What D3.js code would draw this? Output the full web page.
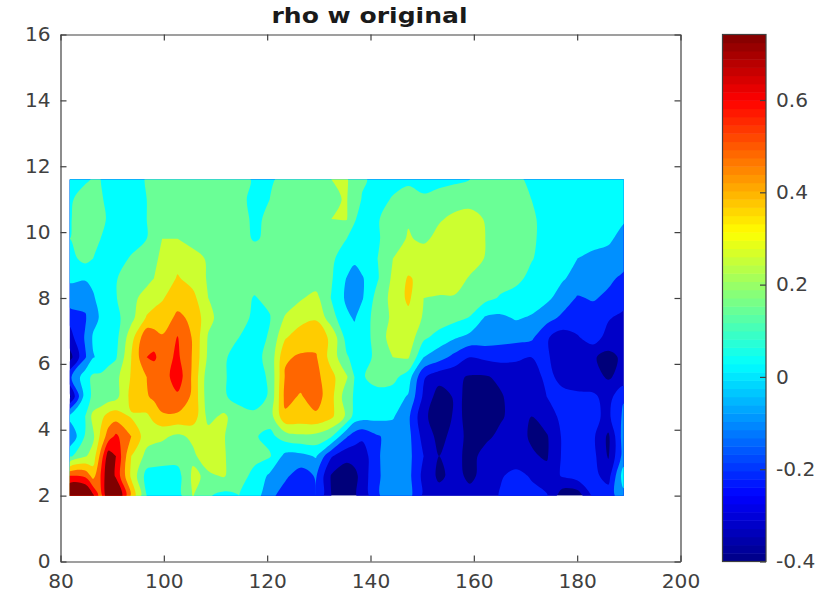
<!DOCTYPE html>
<html>
<head>
<meta charset="utf-8">
<script src="https://cdn.jsdelivr.net/npm/d3@7"></script>
<style>
body { margin: 0; background: #fff; }
text { font-family: "DejaVu Sans", sans-serif; }
</style>
</head>
<body>
<svg id="chart" width="826" height="596"></svg>
<script>
// data: rho on a grid, in hundredths, top row first
const titleText = "rho w original";
const xTicks = [80, 100, 120, 140, 160, 180, 200];
const yTicks = [0, 2, 4, 6, 8, 10, 12, 14, 16];
const barTicks = [-0.4, -0.2, 0, 0.2, 0.4, 0.6];
const gridX = [81.8, 84.78, 86.3, 87.76, 89.3, 90.73, 93.71, 96.69, 98.1, 99.67, 102.65, 105.62, 108.6, 111.58, 114.56, 117.54, 120.51, 123.49, 126.47, 129.45, 132.43, 135.4, 136.9, 138.38, 141.36, 144.34, 147.32, 150.29, 153.27, 156.25, 159.23, 162.21, 165.18, 168.16, 171.14, 174.12, 177.1, 180.07, 183.05, 186.03, 189];
const gridY = [11.6, 11, 10.4, 9.8, 9.2, 8.6, 8, 7.4, 6.8, 6.2, 5.6, 5, 4.4, 3.8, 3.2, 2.6, 2];
const rhoRows = [
  [5,8,11,10,8,4,4,11,13,15,15,16,16,15,13,9,9,12,18,14,20,21,15,11,8,6,8,5,6,8,10,14,14,12,8,5,5,5,5,4,3],
  [8,16,16,11,8,6,5,10,13,15,16,17,16,15,12,8,10,14,16,17,19,20.5,14,9.5,6,11,14,12,15,16,17,16,15,13,10,7,6,5,5,4,2],
  [9,17,17,12,9,7,5,10,14,17,19,17,16,15,12,9,11,14,16,17,20,20.5,10.5,8,9.5,13,19,17,19,22,23,19.5,16,14,11,8,7,6,5,4,1],
  [10,16,15,10,8,6,6,10,15,20,20,17,16,15,12,9.5,11,13,15,15,13,10,8,6,9,15,21,18,23,25,25,20,17,15,11,8,6,5,3,1.5,-3],
  [7,13,10,8,7,6,11,16,19,21,26,23,19,16,15,13,13,13,14,14,11,7,3,5,10,20,24,26,26,26,25,19.5,17,14,10.5,7,3,0,-2,-3,-6],
  [1,1,2,3,6,9.5,14,17,20,22,31,26,19,16,14,13,13,15,16,14,11,-0.5,-6,-1,9,22,31,27,26,25,19,16,14,12,8,5,1,-3,-5,-8,-12],
  [-3,-7,-1,3,5,9.5,17,24,27,29,36,33,20,15,13,9.5,12,14,19,23,9.5,-2,-6,-1,14,23,32,20,19,19,16,13,9,7,5,2,-4,-11,-9,-12,-15],
  [-17,-11,-3,1,4,7,17,31,33,35,42,38,23,15,12,9,9.5,21,26,29,14,2,-1,5,14,22,27,19,16,13,9.5,-1,-2,1,-1,-6,-12,-14,-15,-19,-23],
  [-24,-9,1,3,5,7,26,48,45,41,50.5,39,19,15,10,6,11,29,36,36,28,6,4,4,15,24,26,12,6,1,-3,-4,-6,-7,-8,-19,-25,-21,-15,-24,-27],
  [-34,-11,-0.5,2,6,9,30,50,52,45,52,39,18,11,7,8,12,39,41,41,26,11,7,5,13,20,21,0,-6,-13,-20,-18,-17,-18,-20,-19,-24,-26,-29,-33,-28],
  [-12,6,12,12,15,17,31,40,42,44,56,38,14,11,6,7,11,41,44,43,33,21,10,9,14,13,5,-19,-26,-28,-31,-31,-28,-27,-24,-18,-22,-25,-27,-31,-27],
  [-32,5,12,13,15,17,33,39,42,47,48,38,14,11,7,6,11,43,39,45,33,14,9,7,6,5,-1,-22,-35,-29,-31,-33,-31,-26,-23,-20,-18,-18,-18,-24,-11],
  [3,10,23,27,34,36,29,28,33,38,38,36,17,22,14,12,15,38,37,38,32,18,6,4,3,1,-8,-28,-35,-29,-31,-33,-31,-27,-30,-24,-18,-19,-18,-22,-8],
  [-9,11,18,32,45,52,40,24,23,22,18,22,24,20.5,15,11,7,15,18,17,11,-9,-15,-18,-11,-6,-7,-24,-33,-27,-32,-32,-28,-27,-31,-31,-19,-15,-18,-32,-5],
  [8,19,24,43,66,60,30,17,15,14,14,18,26,21,14,12,11,-3,-3,1,-19,-27,-26,-26,-11,-5,-7,-20,-30,-27,-33,-27,-26,-26,-29,-31,-19,-15,-17,-31,-6],
  [50,48,36,50,70,58,28,6,6,6,6,22,18,21,13,8,-2,-8,-15,-9,-31,-36,-33,-26,-11,-6,-7,-23,-32,-27,-32,-27,-21,-17,-21,-27,-19,-15,-17,-24,5],
  [78,76,62,45,72,76,38,10,7,5,6,20.5,11,7,10,5,-7,-15,-17,-10,-30,-33,-31,-27,-11,-5,-6,-22,-26,-27,-27,-26,-19,-16,-17,-19,-36,-36,-18,-15,-3]
];
// contour levels (same hundredths) and the flat colour of each band
const bandLevels = [-30, -20, -10, 0, 10, 20, 30, 40, 50, 60];
const bandColors = ["#00007a", "#0000c8", "#0020ff", "#0090ff", "#00ffff", "#6aff96", "#ccff30", "#ffcc00", "#ff6600", "#ff0000", "#800000"];
// jet colormap of the colourbar
const jetPositions = [0, 0.125, 0.375, 0.625, 0.875, 1];
const jetColors = ["#000084", "#0000ff", "#00ffff", "#ffff00", "#ff0000", "#800000"];
const barMin = -0.4, barMax = 0.742, barSteps = 64;
// layout
const axLeft = 60.5, axRight = 680.5, axTop = 34.5, axBottom = 561.5;
const barLeft = 722.5, barRight = 766;
const inkColor = "#404040";
const fontSize = 19;

const svg = d3.select("#chart");
const x = d3.scaleLinear().domain([80, 200]).range([axLeft, axRight]);
const y = d3.scaleLinear().domain([0, 16]).range([axBottom, axTop]);

// contours, d3 puts grid value i at i + 0.5
const nx = gridX.length, ny = gridY.length;
const colX = d3.scaleLinear().domain(d3.range(nx)).range(gridX);
const rowY = d3.scaleLinear().domain(d3.range(ny)).range(gridY);
const contourData = d3.contours().size([nx, ny]).thresholds(bandLevels)(rhoRows.flat());
const ringLine = d3.line()
    .x(d => x(colX(d[0] - 0.5)))
    .y(d => y(rowY(d[1] - 0.5)))
    .curve(d3.curveCatmullRomClosed.alpha(0.5));
const contourPath = (multi) => multi.coordinates
    .map(poly => poly.map(ring => ringLine(ring.slice(0, -1))).join(""))
    .join("");

const plotRect = (sel) => sel
    .attr("x", x(gridX[0]))
    .attr("y", y(gridY[0]))
    .attr("width", x(gridX[nx - 1]) - x(gridX[0]))
    .attr("height", y(gridY[ny - 1]) - y(gridY[0]));
svg.append("clipPath").attr("id", "gridClip").append("rect").call(plotRect);
const plot = svg.append("g").attr("clip-path", "url(#gridClip)");
plot.append("rect").call(plotRect).attr("fill", bandColors[0]);
plot.selectAll("path")
  .data(contourData)
  .join("path")
    .attr("d", contourPath)
    .attr("fill", (d, i) => bandColors[i + 1]);

// axes, ticks point inward on all four sides
const styleAxis = (g) => {
    g.selectAll("path, line").attr("stroke", inkColor).attr("stroke-width", 1.2);
    g.selectAll("text")
        .attr("fill", inkColor)
        .attr("font-size", fontSize)
        .attr("font-family", "DejaVu Sans")
        .attr("lengthAdjust", "spacingAndGlyphs")
        .attr("textLength", function () { return this.getComputedTextLength() * 1.06; });
};
svg.append("g").attr("transform", `translate(0,${axBottom})`)
    .call(d3.axisBottom(x).tickValues(xTicks).tickSize(-6).tickPadding(13).tickSizeOuter(0))
    .call(styleAxis);
svg.append("g").attr("transform", `translate(0,${axTop})`)
    .call(d3.axisTop(x).tickValues(xTicks).tickSize(-6).tickFormat("").tickSizeOuter(0))
    .call(styleAxis);
svg.append("g").attr("transform", `translate(${axLeft},0)`)
    .call(d3.axisLeft(y).tickValues(yTicks).tickSize(-6).tickPadding(10).tickSizeOuter(0))
    .call(styleAxis);
svg.append("g").attr("transform", `translate(${axRight},0)`)
    .call(d3.axisRight(y).tickValues(yTicks).tickSize(-6).tickFormat("").tickSizeOuter(0))
    .call(styleAxis);

svg.append("text")
    .attr("x", (axLeft + axRight) / 2 - 1)
    .attr("y", 23)
    .attr("text-anchor", "middle")
    .attr("font-size", 22)
    .attr("font-weight", "bold")
    .attr("fill", "#1a1a1a")
    .attr("lengthAdjust", "spacingAndGlyphs")
    .attr("textLength", 196)
    .text(titleText);

// colourbar
const barY = d3.scaleLinear().domain([barMin, barMax]).range([axBottom, axTop]);
const jet = d3.scaleLinear().domain(jetPositions).range(jetColors).interpolate(d3.interpolateRgb);
const stepHeight = (axBottom - axTop) / barSteps;
svg.append("g").selectAll("rect")
  .data(d3.range(barSteps))
  .join("rect")
    .attr("x", barLeft)
    .attr("width", barRight - barLeft)
    .attr("y", i => axBottom - (i + 1) * stepHeight)
    .attr("height", stepHeight + 0.5)
    .attr("fill", i => jet((i + 0.5) / barSteps));
svg.append("rect")
    .attr("x", barLeft).attr("y", axTop)
    .attr("width", barRight - barLeft).attr("height", axBottom - axTop)
    .attr("fill", "none").attr("stroke", inkColor).attr("stroke-width", 1.2);
svg.append("g").attr("transform", `translate(${barRight},0)`)
    .call(d3.axisRight(barY).tickValues(barTicks).tickSize(-6).tickPadding(10).tickSizeOuter(0).tickFormat(d => String(d)))
    .call(styleAxis)
    .call(g => g.select(".domain").remove());
</script>
</body>
</html>
